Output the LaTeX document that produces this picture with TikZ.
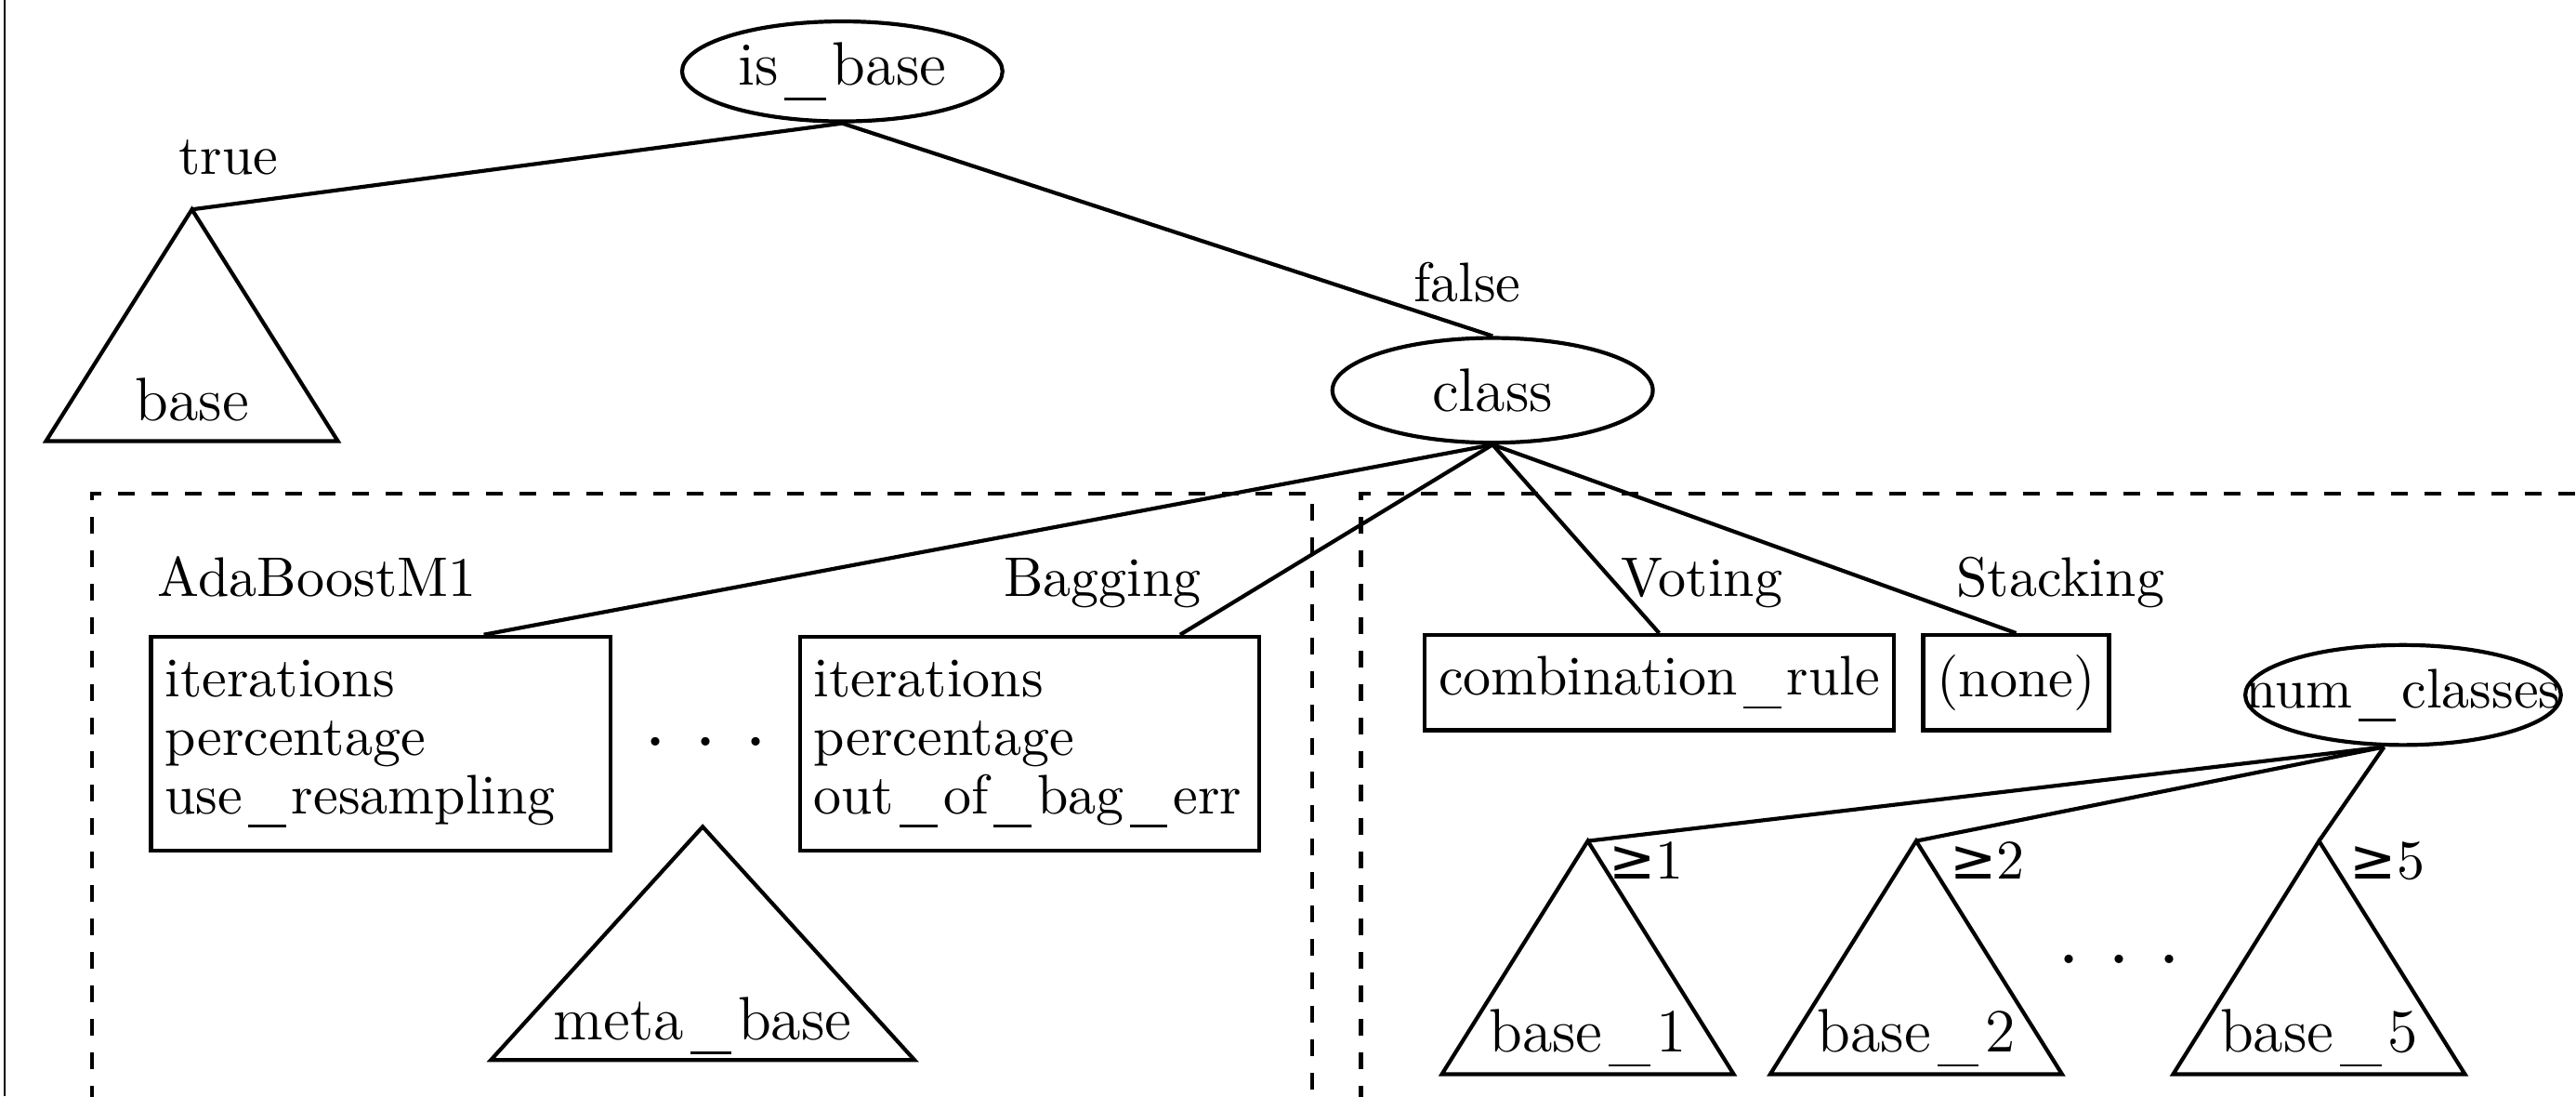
\documentclass[tikz,border=0pt]{standalone}
\usepackage{fontspec}
\newfontfamily\symbfont{DejaVu Sans}
\usepackage{tikz}
\usetikzlibrary{shapes,positioning}
\newcommand{\us}{\kern0.1em\rule[-0.24em]{0.68em}{0.045em}\kern0.1em}
\newcommand{\gap}{{\fontsize{14}{14}\selectfont$\cdot$\hspace{5pt}$\cdot$\hspace{5pt}$\cdot$}}
\tikzstyle{edge} = [line width=0.7pt]
\tikzstyle{attr} = [ellipse, draw, line width=0.7pt, minimum width=2.02cm, minimum height=0.63cm, inner sep=0pt, font=\fontsize{11}{13}\selectfont]
\tikzstyle{params} = [rectangle, draw, line width=0.7pt, text width=2.72cm, align=left, minimum height=1.35cm, inner xsep=2.5pt, font=\fontsize{10}{10.5}\selectfont]
\tikzstyle{leaf} = [rectangle, draw, line width=0.7pt, minimum height=0.6cm, inner xsep=2.5pt]
\tikzstyle{subtree} = [line width=0.7pt, line join=miter]
\tikzstyle{treelabel} = [anchor=base, font=\fontsize{11}{13}\selectfont]
\tikzstyle{group} = [dashed, line width=0.7pt]

\begin{document}
\begin{tikzpicture}
\useasboundingbox (0,0) rectangle (16.24,-6.91);
\draw[line width=0.35pt] (0.03,0) -- (0.03,-6.91);

% root test
\node[attr] (isbase) at (5.31,-0.45) {\makebox[0pt]{is\us base}};

% true branch
\coordinate (tbase) at (1.21,-1.32);
\draw[subtree] (tbase) -- ++(-0.92,-1.46) -- ++(1.84,0) -- cycle;
\node[treelabel] (lbase) at (1.21,-2.65) {base};
\node[anchor=base] (ltrue) at (1.44,-1.10) {true};
\draw[edge] (isbase.south) -- (tbase);

% false branch
\node[attr, minimum height=0.66cm] (class) at (9.41,-2.46) {class};
\node[anchor=base] (lfalse) at (9.25,-1.90) {false};
\draw[edge] (isbase.south) -- (class.north);

% meta classifiers
\draw[group] (0.58,-6.95) |- (8.27,-3.11) -- (8.27,-6.95);
\draw[group] (8.58,-6.95) |- (16.3,-3.11);

\node[params, anchor=north] (ada) at (2.40,-4.00) {iterations\\percentage\\use\us resampling};
\node[params, anchor=north] (bag) at (6.49,-4.00) {iterations\\percentage\\out\us of\us bag\us err};
\node[anchor=base] (lada) at (2.00,-3.76) {AdaBoostM1};
\node[anchor=base] (lbag) at (6.95,-3.76) {Bagging};
\node (dotsa) at (4.45,-4.69) {\gap};
\draw[edge] (class.south) -- ([xshift=0.65cm]ada.north);
\draw[edge] (class.south) -- ([xshift=0.95cm]bag.north);

\coordinate (tmeta) at (4.43,-5.21);
\draw[subtree] (tmeta) -- ++(-1.335,-1.47) -- ++(2.67,0) -- cycle;
\node[treelabel] (lmeta) at (4.43,-6.55) {meta\us base};

% ensembles
\node[leaf, anchor=north] (vote) at (10.46,-3.99) {combination\us rule};
\node[leaf, anchor=north] (stack) at (12.71,-3.99) {(none)};
\node[anchor=base] (lvote) at (10.73,-3.76) {Voting};
\node[anchor=base] (lstack) at (12.99,-3.76) {Stacking};
\draw[edge] (class.south) -- (vote.north);
\draw[edge] (class.south) -- (stack.north);

\node[attr, minimum width=1.99cm, font=\normalsize] (num) at (15.15,-4.38) {\makebox[0pt]{num\us classes}};

\coordinate (tone) at (10.01,-5.30);
\draw[subtree] (tone) -- ++(-0.92,-1.47) -- ++(1.84,0) -- cycle;
\node[treelabel] (lone) at (10.01,-6.63) {base\us 1};
\node[anchor=base] (gone) at (10.38,-5.54) {{\symbfont ≥}1};

\coordinate (ttwo) at (12.08,-5.30);
\draw[subtree] (ttwo) -- ++(-0.92,-1.47) -- ++(1.84,0) -- cycle;
\node[treelabel] (ltwo) at (12.08,-6.63) {base\us 2};
\node[anchor=base] (gtwo) at (12.53,-5.54) {{\symbfont ≥}2};

\coordinate (tfive) at (14.62,-5.30);
\draw[subtree] (tfive) -- ++(-0.92,-1.47) -- ++(1.84,0) -- cycle;
\node[treelabel] (lfive) at (14.62,-6.63) {base\us 5};
\node[anchor=base] (gfive) at (15.05,-5.54) {{\symbfont ≥}5};

\node (dotsb) at (13.36,-6.06) {\gap};

\draw[edge] ([xshift=-0.12cm]num.south) -- (tone);
\draw[edge] ([xshift=-0.12cm]num.south) -- (ttwo);
\draw[edge] ([xshift=-0.12cm]num.south) -- (tfive);
\end{tikzpicture}
\end{document}
